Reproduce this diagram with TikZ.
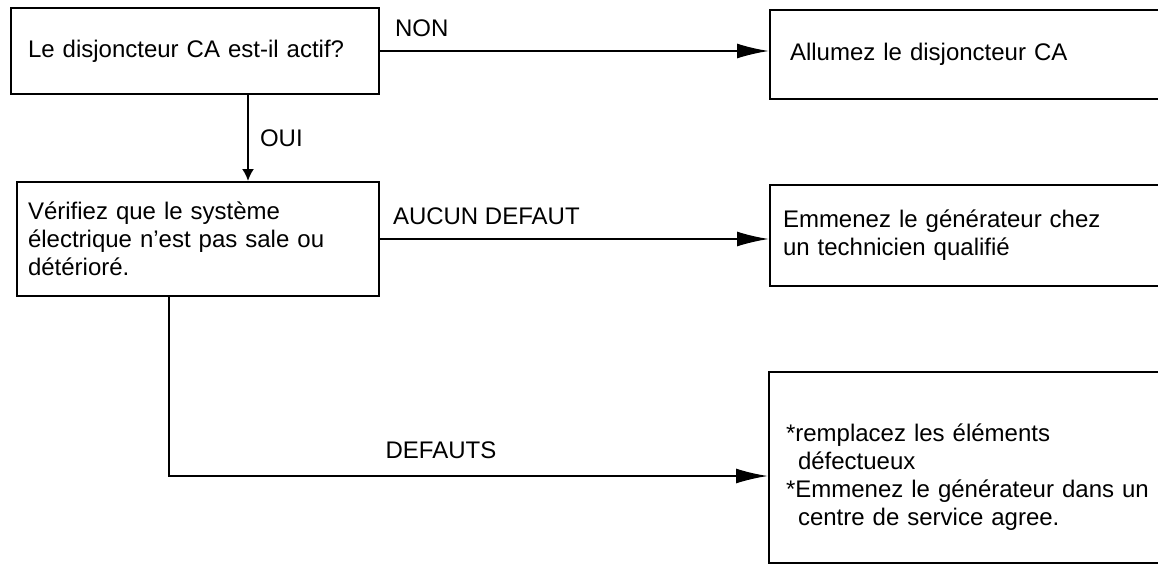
\documentclass[tikz,border=0pt]{standalone}
\usepackage{fontspec}
\setmainfont{Liberation Sans}
\usetikzlibrary{arrows.meta}

\begin{document}
\begin{tikzpicture}[x=0.5pt, y=-0.5pt, font=\fontsize{12}{14}\selectfont,
    block/.style={rectangle, draw, line width=1pt, anchor=north west, align=left, inner ysep=0pt},
    flow/.style={line width=1pt, -{Latex[length=16pt, width=7.5pt]}},
    shortflow/.style={line width=1pt, -{Latex[length=6pt, width=6pt]}},
    answer/.style={anchor=base west, inner sep=0pt}]
        \useasboundingbox (0,0) rectangle (1158,563);
        \clip (0,0) rectangle (1158,563);
        % Nodes
        \node (q-breaker) [block, minimum width=184pt, minimum height=43pt, inner xsep=8.5pt, text width=167pt] at (10, 7) {Le disjoncteur CA est-il actif?};
        \node (check) [block, minimum width=181pt, minimum height=57pt, inner xsep=5.5pt, text width=170pt] at (16, 181) {V\'erifiez que le syst\`eme\\\'electrique n'est pas sale ou\\d\'et\'erior\'e.};
        \node (breaker-on) [block, minimum width=215.5pt, minimum height=44.5pt, inner xsep=10pt, text width=195.5pt] at (769, 9) {Allumez le disjoncteur CA};
        \node (technician) [block, minimum width=215.5pt, minimum height=50.5pt, inner xsep=6.5pt, text width=202.5pt] at (769, 184) {Emmenez le g\'en\'erateur chez\\un technicien qualifi\'e};
        \node (repair) [block, minimum width=216pt, minimum height=95.5pt, inner xsep=8.5pt, text width=199pt] at (768, 371) {\rule{0pt}{18pt}*remplacez les \'el\'ements\\\hspace*{6pt}d\'efectueux\\{}*Emmenez le g\'en\'erateur dans un\\\hspace*{6pt}centre de service agree.};
        \coordinate (defaut-turn) at (169, 476);
        % Arrow
        \draw[flow] (q-breaker.east) -- (q-breaker.east -| breaker-on.west) node[pos=0, answer, xshift=7pt, yshift=7.5pt] {NON};
        \draw[shortflow] ([xshift=26.5pt]q-breaker.south) -- ([xshift=26.5pt]q-breaker.south |- check.north) node[midway, answer, anchor=west, xshift=5.5pt] {OUI};
        \draw[flow] (check.east) -- (check.east -| technician.west) node[pos=0, answer, xshift=6pt, yshift=7.5pt] {AUCUN DEFAUT};
        \draw[flow] (check.south -| defaut-turn) -- (defaut-turn) -- node[pos=0.36, answer, yshift=9pt] {DEFAUTS} (defaut-turn -| repair.west);
      \end{tikzpicture}
\end{document}
